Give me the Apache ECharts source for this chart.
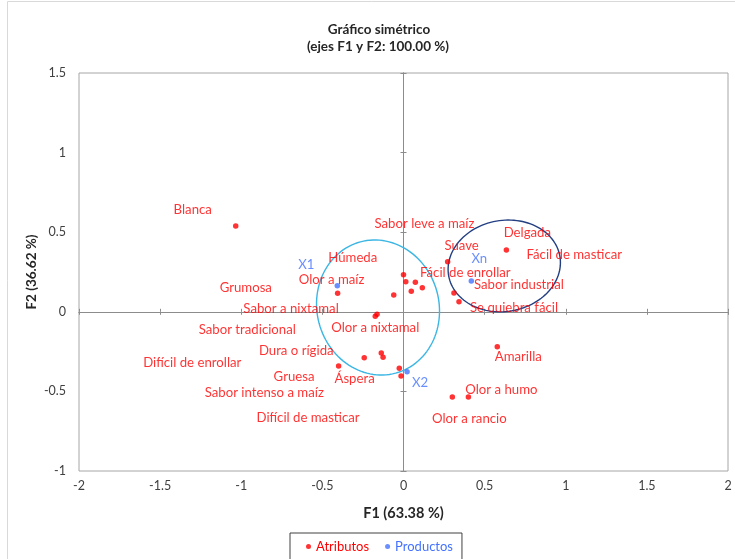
<!DOCTYPE html>
<html>
<head>
<meta charset="utf-8">
<script src="https://cdn.jsdelivr.net/npm/echarts@6/dist/echarts.min.js"></script>
<style>html,body{margin:0;padding:0;background:#fff}#c{width:735px;height:559px}</style>
</head>
<body>
<div id="c"></div>
<script>
// ---- data ----
const atributos = ['Blanca','Olor a maíz','Grumosa','Sabor leve a maíz','Húmeda','Fácil de enrollar','Fácil de masticar','Sabor tradicional','Sabor a nixtamal','Olor a nixtamal','Dura o rígida','Difícil de enrollar','Gruesa','Áspera','Sabor intenso a maíz','Difícil de masticar','Suave','Sabor industrial','Se quiebra fácil','Delgada','Amarilla','Olor a rancio','Olor a humo'];
const f1Atributos = [-1.034,-0.406,-0.060,0.000,0.014,0.073,0.116,0.048,-0.163,-0.174,-0.242,-0.137,-0.126,-0.400,-0.026,-0.015,0.272,0.311,0.342,0.634,0.578,0.301,0.400];
const f2Atributos = [0.539,0.116,0.106,0.233,0.189,0.185,0.151,0.129,-0.016,-0.028,-0.288,-0.259,-0.286,-0.340,-0.355,-0.403,0.315,0.118,0.063,0.388,-0.219,-0.535,-0.535];
const productos = ['X1','X2','Xn'];
const f1Productos = [-0.408,0.022,0.418];
const f2Productos = [0.164,-0.376,0.193];
// confidence ellipses: centre (F1,F2), semi-axes (F1,F2 units), tilt in degrees
const ellipseF1 = [-0.157,0.621];
const ellipseF2 = [0.027,0.288];
const ellipseA = [0.376,0.348];
const ellipseB = [0.427,0.286];
const ellipseTilt = [15,10];
const xTicks = {min:-2,max:2,interval:0.5};
const yTicks = {min:-1,max:1.5,interval:0.5};

// ---- styles (label offsets in px) ----
const atrLabelOffsets = [[-43,-16],[-6,-14],[-148,-7],[21,-51],[-53,-24],[50,-10],[152,-33],[-164,38],[-86,-6],[0,11],[-68,-7],[-189,10],[-89,19],[16,13],[-135,24],[-93,42],[14,-16],[65,-8],[55,6],[21,-17],[21,10],[17,22],[33,-7]];
const prodLabelOffsets = [[-31,-21],[13,11],[8,-22]];
const ellipseColors = ['#3cb6e3','#233f82'];
const RED = '#ff0000', BLUE = '#4472ff';
const FONT = 'Lato';

const chart = echarts.init(document.getElementById('c'));
const gridRect = {left:79, right:7, top:73, bottom:88};

function mainAxis(t, pos, extra){
  return Object.assign({type:'value', gridIndex:0, position:pos, min:t.min, max:t.max, interval:t.interval,
    axisLine:{show:false, onZero:false}, axisTick:{show:false}, splitLine:{show:false}}, extra);
}
function zeroAxis(t, gi, pos, zeroIdx){
  return {type:'value', gridIndex:gi, position:pos, min:t.min, max:t.max, interval:t.interval,
    axisLine:{show:true, onZero:true, onZeroAxisIndex:zeroIdx, lineStyle:{color:'#8c8c8c', width:1}},
    axisTick:{show:true, length:3, inside:false, lineStyle:{color:'#8c8c8c'}},
    axisLabel:{show:false}, splitLine:{show:false}};
}

const xAxes = [
  mainAxis(xTicks,'bottom',{name:'F1 (63.38 %)', nameLocation:'middle', nameGap:35,
    axisLabel:{color:'#404040', fontFamily:FONT, fontSize:12.5, margin:8},
    nameTextStyle:{fontFamily:FONT, fontWeight:'bold', fontSize:14.5, color:'#262626'}}),
  zeroAxis(xTicks,0,'top',0),
  zeroAxis(xTicks,1,'bottom',2)
];
const yAxes = [
  mainAxis(yTicks,'left',{name:'F2 (36.62 %)', nameLocation:'middle', nameGap:40, nameRotate:90, nameMoveOverlap:false,
    axisLabel:{color:'#404040', fontFamily:FONT, fontSize:12.5, margin:13},
    nameTextStyle:{fontFamily:FONT, fontWeight:'bold', fontSize:13.5, color:'#262626'}}),
  zeroAxis(yTicks,0,'right',0),
  zeroAxis(yTicks,1,'left',2)
];

const atrData = atributos.map((n,i)=>({name:n, value:[f1Atributos[i], f2Atributos[i]],
  label:{offset:atrLabelOffsets[i]}}));
const prodData = productos.map((n,i)=>({name:n, value:[f1Productos[i], f2Productos[i]],
  label:{offset:prodLabelOffsets[i]}}));
const ellData = ellipseF1.map((v,i)=>[v, ellipseF2[i], ellipseA[i], ellipseB[i], ellipseTilt[i]]);

chart.setOption({
  animation:false,
  grid:[Object.assign({show:true, borderColor:'#a6a6a6', borderWidth:1, backgroundColor:'transparent'}, gridRect),
        Object.assign({show:false}, gridRect)],
  xAxis:xAxes,
  yAxis:yAxes,
  legend:{
    top:533, left:290, padding:[7,9,14,16], itemGap:16, itemWidth:5, itemHeight:5,
    borderColor:'#404040', borderWidth:1, icon:'circle',
    textStyle:{fontFamily:FONT, fontSize:13},
    data:[{name:'Atributos', textStyle:{color:RED}}, {name:'Productos', textStyle:{color:BLUE}}]
  },
  graphic:[
    {type:'rect', silent:true, shape:{x:7.5, y:1.5, width:800, height:700}, style:{fill:null, stroke:'#d9d9d9', lineWidth:1}},
    {type:'text', x:379, y:30, style:{text:'Gráfico simétrico', align:'center', verticalAlign:'middle', font:'bold 13.5px '+FONT, fill:'#262626'}},
    {type:'text', x:378, y:47, style:{text:'(ejes F1 y F2: 100.00 %)', align:'center', verticalAlign:'middle', font:'bold 13.5px '+FONT, fill:'#262626'}}
  ],
  series:[
    {type:'custom', name:'Elipses', xAxisIndex:0, yAxisIndex:0, silent:true, z:3, data:ellData,
      renderItem:function(params, api){
        const c = api.coord([api.value(0), api.value(1)]);
        const s = api.size([api.value(2), api.value(3)]);
        const ang = api.value(4)*Math.PI/180;
        const pts = [];
        for(let k=0;k<=120;k++){
          const t = k/120*Math.PI*2;
          const ex = s[0]*Math.cos(t), ey = s[1]*Math.sin(t);
          pts.push([c[0] + ex*Math.cos(ang) + ey*Math.sin(ang), c[1] - ex*Math.sin(ang) + ey*Math.cos(ang)]);
        }
        return {type:'polyline', shape:{points:pts}, style:{stroke:ellipseColors[params.dataIndex], fill:null, lineWidth:1.4}};
      }},
    {type:'scatter', name:'Atributos', xAxisIndex:0, yAxisIndex:0, symbol:'circle', symbolSize:5.5, z:4,
      itemStyle:{color:RED}, data:atrData,
      label:{show:true, position:'inside', formatter:'{b}', color:RED, fontFamily:FONT, fontSize:13.2}},
    {type:'scatter', name:'Productos', xAxisIndex:0, yAxisIndex:0, symbol:'circle', symbolSize:5.5, z:5,
      itemStyle:{color:BLUE}, data:prodData,
      label:{show:true, position:'inside', formatter:'{b}', color:BLUE, fontFamily:FONT, fontSize:13.2}}
  ]
});
</script>
</body>
</html>
